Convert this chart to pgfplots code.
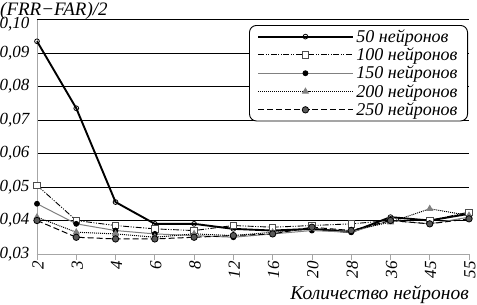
\documentclass[border=0pt]{standalone}
\usepackage{fontspec}
\setmainfont{Liberation Serif}
\usepackage{pgfplots}
\pgfplotsset{compat=1.18}
\begin{document}
\begin{tikzpicture}
\begin{axis}[
  name=ax,
  scale only axis,
  width=432pt, height=234.5pt,
  xmin=0, xmax=11, ymin=0.03, ymax=0.10,
  axis lines=left,
  axis line style={-, draw=gray!70, line width=0.8pt},
  xtick={0,...,11},
  xticklabels={2,3,4,6,8,12,16,20,28,36,45,55},
  ytick={0.03,0.04,0.05,0.06,0.07,0.08,0.09},
  extra y ticks={0.10},
  extra y tick style={ymajorgrids=true, yticklabel style={yshift=-5pt}},
  ymajorgrids,
  major grid style={black, line width=0.9pt},
  tick align=outside,
  major tick length=6pt,
  xtick style={draw=gray!70, line width=0.8pt},
  ytick style={draw=none},
  /pgf/number format/assume math mode=true,
  yticklabel={\pgfmathprintnumber[fixed, fixed zerofill, precision=2, use comma]{\tick}},
  ticklabel style={font=\itshape\fontsize{17}{17}\selectfont},
  xticklabel style={rotate=90, anchor=east, inner sep=1pt, yshift=-1pt},
  yticklabel style={inner sep=1.5pt},
  xlabel={Количество нейронов},
  xlabel style={at={(axis description cs:1,0)}, anchor=base east, yshift=-46pt, inner sep=0pt, font=\itshape\fontsize{19.5}{19.5}\selectfont},
  ylabel={(FRR−FAR)/2},
  ylabel style={at={(axis description cs:0,1)}, rotate=-90, anchor=base west, xshift=-37pt, yshift=4.5pt, inner sep=0pt, font=\itshape\fontsize{19}{19}\selectfont},
  legend style={at={(axis description cs:1,1)}, anchor=north east, xshift=-1pt, yshift=-5.5pt,
    draw=black, line width=0.9pt, rounded corners=7pt, font=\itshape\fontsize{18}{18}\selectfont,
    row sep=0pt, inner xsep=8pt, inner ysep=2pt, cells={anchor=west}},
  legend image code/.code={\draw[mark repeat=2,mark phase=2,#1] plot coordinates {(0pt,0pt) (47pt,0pt) (95pt,0pt)};},
  clip=false,
]
\addplot[black, line width=1.9pt, mark=o, mark size=2.4pt, mark options={fill=white, line width=0.8pt, solid}]
  coordinates {(0,0.0935) (1,0.0735) (2,0.0455) (3,0.039) (4,0.039) (5,0.0375) (6,0.037) (7,0.0375) (8,0.0365) (9,0.041) (10,0.040) (11,0.042)};
\addlegendentry{50 нейронов}
\addplot[black, line width=0.9pt, dash pattern=on 6pt off 1.5pt on 1pt off 1.5pt on 1pt off 1.5pt, mark=square*, mark size=3.2pt, mark options={fill=white, draw=gray!60!black, line width=0.8pt, solid}]
  coordinates {(0,0.0505) (1,0.040) (2,0.0385) (3,0.0375) (4,0.037) (5,0.0385) (6,0.038) (7,0.0385) (8,0.039) (9,0.040) (10,0.040) (11,0.0425)};
\addlegendentry{100 нейронов}
\addplot[gray, line width=1pt, mark=*, mark size=2.4pt, mark options={fill=black, draw=black, solid}]
  coordinates {(0,0.045) (1,0.039) (2,0.037) (3,0.036) (4,0.0355) (5,0.035) (6,0.036) (7,0.037) (8,0.0365) (9,0.040) (10,0.039) (11,0.041)};
\addlegendentry{150 нейронов}
\addplot[black, line width=1pt, densely dotted, mark=triangle*, mark size=3.2pt, mark options={fill=gray, draw=gray, solid}]
  coordinates {(0,0.041) (1,0.0365) (2,0.036) (3,0.035) (4,0.036) (5,0.0355) (6,0.0365) (7,0.0375) (8,0.037) (9,0.0395) (10,0.0435) (11,0.0415)};
\addlegendentry{200 нейронов}
\addplot[black, line width=1pt, dash pattern=on 6pt off 3pt, mark=*, mark size=3.2pt, mark options={fill=gray!70!black, draw=black, line width=0.8pt, solid}]
  coordinates {(0,0.040) (1,0.035) (2,0.0345) (3,0.0345) (4,0.035) (5,0.0355) (6,0.036) (7,0.038) (8,0.037) (9,0.040) (10,0.039) (11,0.0405)};
\addlegendentry{250 нейронов}
\end{axis}
\pgfresetboundingbox
\path (ax.south west) ++(-37pt,-51pt) rectangle ++(477pt,305pt);
\end{tikzpicture}
\end{document}
